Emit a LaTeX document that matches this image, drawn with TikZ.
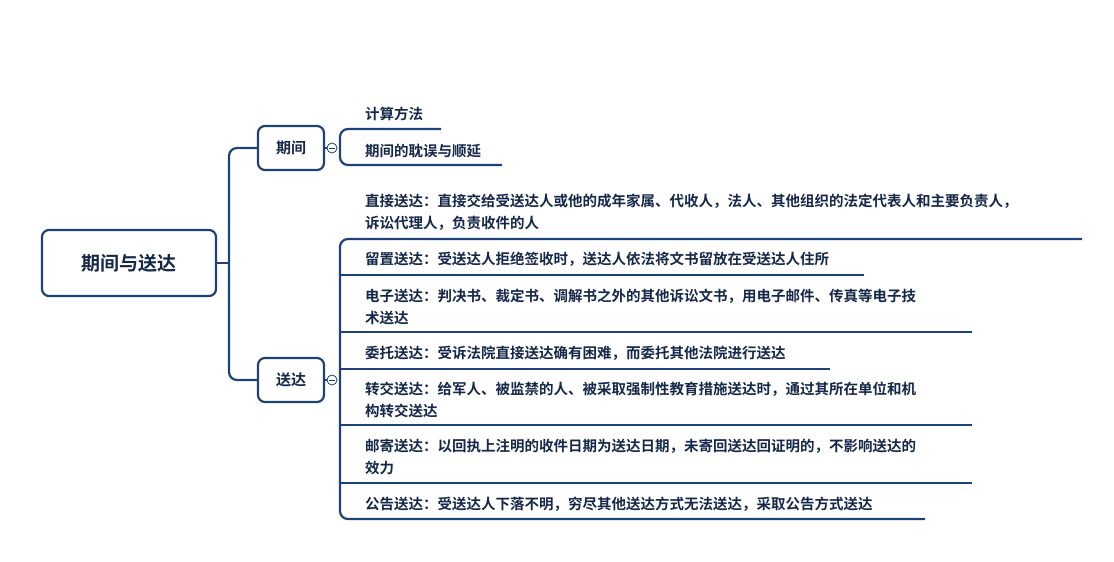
\documentclass[tikz,border=0pt]{standalone}
\usepackage{fontspec}
\setmainfont{Noto Sans CJK SC}[BoldFont={* Bold}]
\definecolor{ln}{HTML}{1E4178}
\definecolor{tx}{HTML}{16284A}
\begin{document}
\begin{tikzpicture}[x=1pt,y=-1pt,
  box/.style={draw=ln,line width=2.2pt,rounded corners=7pt,text=tx,font=\bfseries},
  leaf/.style={anchor=west,align=left,text=tx,inner sep=0pt,font=\fontsize{14.5}{22}\selectfont\bfseries},
  conn/.style={draw=ln,line width=2.2pt,rounded corners=8pt},
  tog/.style={circle,draw=ln,line width=0.8pt,fill=white,minimum size=10pt,inner sep=0pt}]
\useasboundingbox (0,0) rectangle (1114,562);
\node[box,minimum width=174pt,minimum height=66pt,font=\fontsize{19}{22}\selectfont\bfseries] (root) at (129,263) {期间与送达};
\node[box,minimum width=66pt,minimum height=44pt,font=\fontsize{15}{20}\selectfont\bfseries] (qj) at (291,148) {期间};
\node[box,minimum width=66pt,minimum height=44pt,font=\fontsize{15}{20}\selectfont\bfseries] (sd) at (291,380) {送达};
\draw[conn] (qj.west) -- (229,148) -- (229,380) -- (sd.west);
\draw[conn] (root.east) -- (229,263);
% 期间 leaves
\node[leaf] (a1) at (365,114) {计算方法};
\node[leaf] (a2) at (365,151) {期间的耽误与顺延};
\coordinate (ta) at (332,148);
\draw[conn] (441,129) -- (340,129) -- (340,165) -- (502,165);
\draw[ln,line width=2.2pt] (qj.east) -- (ta);
\node[tog] (t1) at (ta) {};
\draw[ln,line width=0.9pt] (329,148) -- (335,148);
% 送达 leaves
\node[leaf] (b1) at (365,212) {直接送达：直接交给受送达人或他的成年家属、代收人，法人、其他组织的法定代表人和主要负责人，\\诉讼代理人，负责收件的人};
\node[leaf] (b2) at (365,259) {留置送达：受送达人拒绝签收时，送达人依法将文书留放在受送达人住所};
\node[leaf] (b3) at (365,307) {电子送达：判决书、裁定书、调解书之外的其他诉讼文书，用电子邮件、传真等电子技\\术送达};
\node[leaf] (b4) at (365,353) {委托送达：受诉法院直接送达确有困难，而委托其他法院进行送达};
\node[leaf] (b5) at (365,400) {转交送达：给军人、被监禁的人、被采取强制性教育措施送达时，通过其所在单位和机\\构转交送达};
\node[leaf] (b6) at (365,457) {邮寄送达：以回执上注明的收件日期为送达日期，未寄回送达回证明的，不影响送达的\\效力};
\node[leaf] (b7) at (365,504) {公告送达：受送达人下落不明，穷尽其他送达方式无法送达，采取公告方式送达};
\draw[conn] (1082,239) -- (340,239) -- (340,519) -- (925,519);
\foreach \y/\r in {275/864,332/972,369/830,425/972,483/972}
  \draw[conn] (340,\y) -- (\r,\y);
\coordinate (tb) at (332,380);
\draw[ln,line width=2.2pt] (sd.east) -- (tb);
\node[tog] (t2) at (tb) {};
\draw[ln,line width=0.9pt] (329,380) -- (335,380);
\end{tikzpicture}
\end{document}
